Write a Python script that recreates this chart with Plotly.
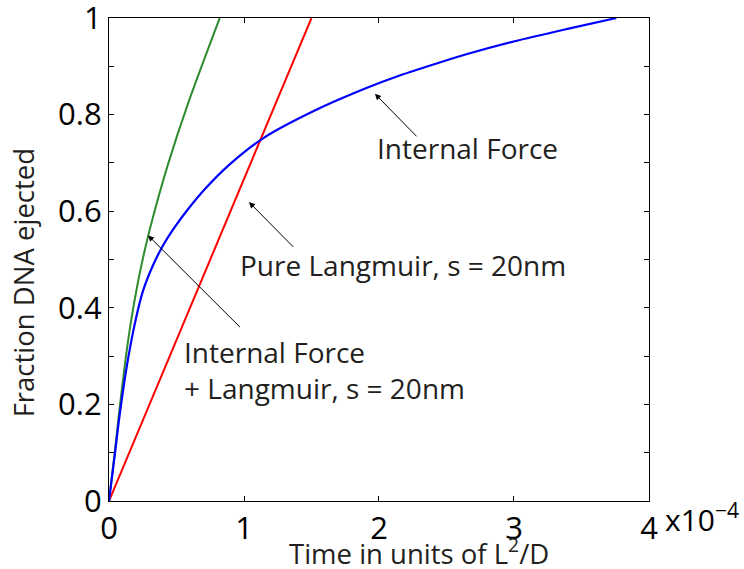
import plotly.graph_objects as go

# Time values are read in units of 1e-4 (the axis multiplier "x10^-4")
X_SCALE = 1e-4

# Internal Force (blue)
t_internal = [0, 0.045, 0.077, 0.136, 0.198, 0.252, 0.326, 0.40, 0.487, 0.585,
              0.721, 0.894, 1.141, 1.536, 1.907, 2.153, 2.45, 2.647, 3.005, 3.388, 3.758]
f_internal = [0, 0.10, 0.174, 0.286, 0.376, 0.435, 0.488, 0.529, 0.567, 0.604,
              0.649, 0.697, 0.751, 0.810, 0.855, 0.881, 0.908, 0.925, 0.952, 0.977, 1.0]

# Internal Force + Langmuir (green)
t_combined = [0, 0.042, 0.075, 0.116, 0.158, 0.215, 0.272, 0.326, 0.437, 0.589, 0.82]
f_combined = [0, 0.10, 0.183, 0.279, 0.363, 0.454, 0.528, 0.588, 0.697, 0.826, 1.0]

# Pure Langmuir (red)
t_langmuir = [0, 1.5]
f_langmuir = [0, 1.0]

x_tick_vals = [0, 1, 2, 3, 4]
x_tick_text = ["0", "1", "2", "3", "4"]
y_tick_vals = [0, 0.1, 0.2, 0.3, 0.4, 0.5, 0.6, 0.7, 0.8, 0.9, 1.0]
y_tick_text = ["0", "", "0.2", "", "0.4", "", "0.6", "", "0.8", "", "1"]

FONT = "Open Sans"
TXT = "#231F20"

fig = go.Figure()
fig.add_trace(go.Scatter(x=[t * X_SCALE for t in t_combined], y=f_combined, mode="lines",
                         line=dict(color="#2E8B2E", width=2, shape="spline", smoothing=0.7),
                         showlegend=False, hoverinfo="skip"))
fig.add_trace(go.Scatter(x=[t * X_SCALE for t in t_langmuir], y=f_langmuir, mode="lines",
                         line=dict(color="#FF0000", width=2), showlegend=False, hoverinfo="skip"))
fig.add_trace(go.Scatter(x=[t * X_SCALE for t in t_internal], y=f_internal, mode="lines",
                         line=dict(color="#0000FF", width=2.2, shape="spline", smoothing=0.7),
                         showlegend=False, hoverinfo="skip"))

axis_common = dict(showline=True, linecolor="black", linewidth=1.3, mirror="ticks",
                   ticks="inside", ticklen=5, tickcolor="black", tickwidth=1,
                   showgrid=False, zeroline=False, ticklabeloverflow="allow",
                   automargin=False,
                   tickfont=dict(family=FONT, size=31, color="black"))

fig.update_xaxes(range=[0, 4.0001 * X_SCALE], tickvals=[v * X_SCALE for v in x_tick_vals],
                 ticktext=x_tick_text, **axis_common)
fig.update_yaxes(range=[0, 1.0001], tickvals=y_tick_vals, ticktext=y_tick_text, **axis_common)

annotations = []
# arrows: (head_t, head_f, tail_t, tail_f)
arrows = [(1.970, 0.843, 2.289, 0.752),
          (1.037, 0.619, 1.376, 0.523),
          (0.289, 0.550, 0.981, 0.357)]
for ht, hf, tt, tf in arrows:
    annotations.append(dict(x=ht * X_SCALE, y=hf, ax=tt * X_SCALE, ay=tf, xref="x", yref="y",
                            axref="x", ayref="y", text="", showarrow=True, arrowhead=2,
                            arrowsize=1.2, arrowwidth=1, arrowcolor="black"))

labels = [("Internal Force", 1.97, 0.730),
          ("Pure Langmuir, s = 20nm", 0.954, 0.488),
          ("Internal Force<br>+ Langmuir, s = 20nm", 0.539, 0.271)]
for txt, lt, lf in labels:
    annotations.append(dict(x=lt * X_SCALE, y=lf, xref="x", yref="y", text=txt, showarrow=False,
                            xanchor="left", yanchor="middle", align="left",
                            font=dict(family=FONT, size=28, color=TXT)))

# axis titles
annotations.append(dict(x=0.5746, y=-0.104, xref="paper", yref="paper",
                        text="Time in units of L<sup>2</sup>/D", showarrow=False,
                        xanchor="center", yanchor="middle",
                        font=dict(family=FONT, size=27.5, color=TXT)))
annotations.append(dict(x=-0.158, y=0.452, xref="paper", yref="paper",
                        text="Fraction DNA ejected", showarrow=False, textangle=-90,
                        xanchor="center", yanchor="middle",
                        font=dict(family=FONT, size=27.5, color=TXT)))
annotations.append(dict(x=1.026, y=-0.035, xref="paper", yref="paper",
                        text="x10<sup>−4</sup>", showarrow=False,
                        xanchor="left", yanchor="middle",
                        font=dict(family=FONT, size=30, color="black")))

fig.update_layout(width=744, height=569, margin=dict(l=109, r=95, t=18, b=68, autoexpand=False),
                  plot_bgcolor="white", paper_bgcolor="white", annotations=annotations)

fig.write_html("out.html")
